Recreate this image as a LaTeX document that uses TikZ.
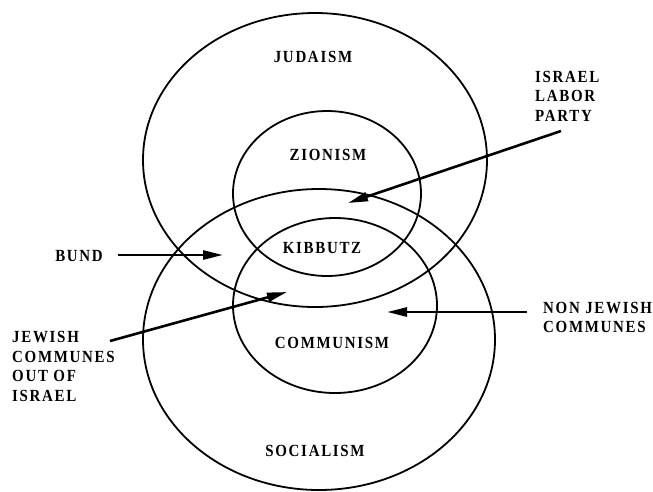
\documentclass[tikz,border=0pt]{standalone}
\usepackage{fontspec}
\setmainfont{Liberation Serif}[LetterSpace=10, FakeStretch=0.88]
\usepackage{tikz}
\usetikzlibrary{arrows.meta, shapes.geometric}

\begin{document}
\begin{tikzpicture}[x=1pt, y=-1pt,
    ring/.style={draw, ellipse, line width=1.8pt, inner sep=0pt},
    word/.style={inner sep=0pt, font=\fontsize{17}{19.5}\selectfont\bfseries},
    list/.style={word, align=left, anchor=west},
    arr/.style={-{Triangle[length=20pt, width=9pt]}, line width=2.6pt}]
  \useasboundingbox (0,0) rectangle (653,491);

  % 四个集合
  \node[ring, minimum width=344pt, minimum height=294pt] (jud) at (315,160) {};
  \node[ring, minimum width=352pt, minimum height=301pt] (soc) at (319,339.5) {};
  \node[ring, minimum width=188pt, minimum height=165pt] (zio) at (327,193.5) {};
  \node[ring, minimum width=204pt, minimum height=175pt] (com) at (335,305.5) {};

  % 集合名称
  \node[word] (judname) at (313,57) {JUDAISM};
  \node[word] (zioname) at (328,155) {ZIONISM};
  \node[word] (kib) at (322,248) {KIBBUTZ};
  \node[word] (comname) at (332,343) {COMMUNISM};
  \node[word] (socname) at (315,451) {SOCIALISM};

  % 外面的说明
  \node[word] (bund) at (79,256) {BUND};
  \node[list] (labor) at (535,96) {ISRAEL\\LABOR\\PARTY};
  \node[list] (nonjew) at (543,317.5) {NON JEWISH\\COMMUNES};
  \node[list] (jewcom) at (12,366.5) {JEWISH\\COMMUNES\\OUT OF\\ISRAEL};

  % 箭头
  \coordinate (bundtail) at (118,255);
  \coordinate (bundtip) at (223,255);
  \coordinate (labortail) at (561,131);
  \coordinate (labortip) at (348,203);
  \coordinate (nonjewtail) at (527,312);
  \coordinate (nonjewtip) at (387,312);
  \coordinate (jewcomtail) at (110,341);
  \coordinate (jewcomtip) at (287,292);
  \draw[arr] (bundtail) -- (bundtip);
  \draw[arr] (labortail) -- (labortip);
  \draw[arr] (nonjewtail) -- (nonjewtip);
  \draw[arr] (jewcomtail) -- (jewcomtip);
\end{tikzpicture}
\end{document}
